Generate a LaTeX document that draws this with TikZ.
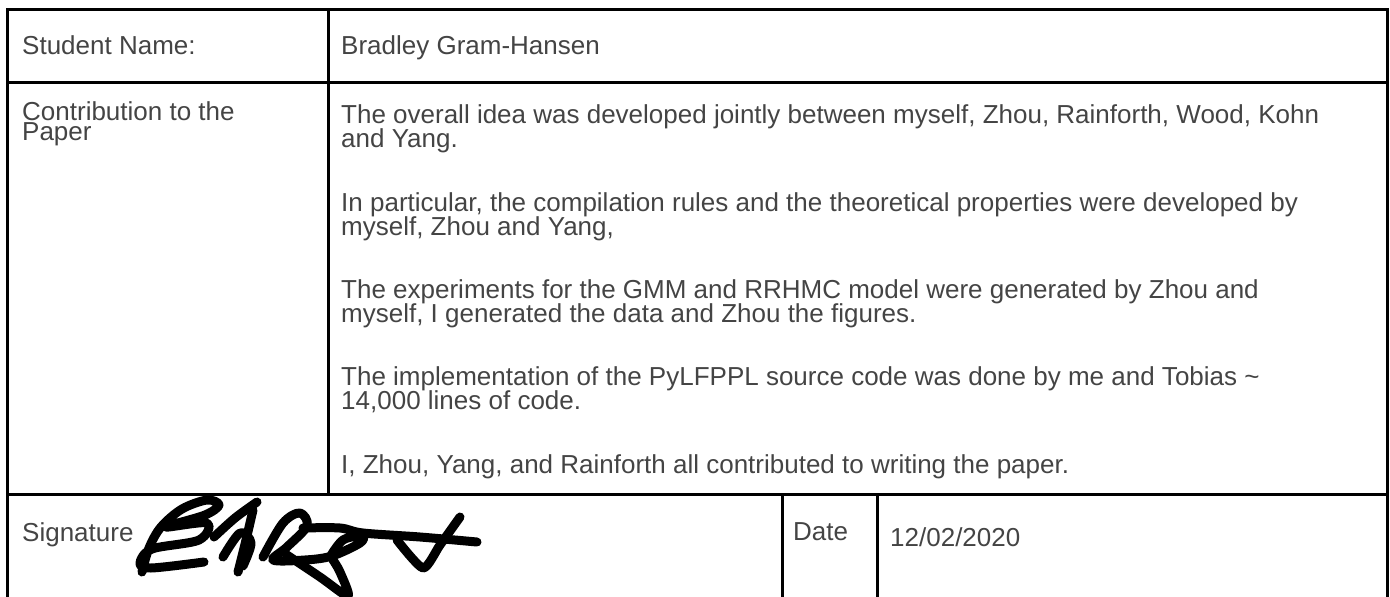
\documentclass[tikz,border=0pt]{standalone}
\usepackage{fontspec}
\setmainfont{Liberation Sans}
\definecolor{txt}{HTML}{444444}
\begin{document}
\begin{tikzpicture}[x=1pt,y=-1pt,
  rule/.style={line width=3pt,black},
  cell/.style={anchor=base west,inner sep=0pt,text=txt,font=\fontsize{26}{24.5}\selectfont,align=left},
  ink/.style={line width=9pt,black,line cap=round,line join=round}]
\useasboundingbox (0,0) rectangle (1390,597);
\begin{scope}
\clip (0,0) rectangle (1390,597);
% table frame
\draw[rule] (7,610) -- (7,9) -- (1387,9) -- (1387,610);
\draw[rule] (7,82) -- (1387,82);
\draw[rule] (7,494) -- (1387,494);
\draw[rule] (328,9) -- (328,494);
\draw[rule] (782,494) -- (782,610);
\draw[rule] (877,494) -- (877,610);
\end{scope}
% first column (multi-line nodes are placed by the baseline of their last line)
\node[cell] (lname) at (22,54) {Student Name:};
\node[cell,font=\fontsize{26}{17}\selectfont] (lcontrib) at (22,140) {Contribution to the\\Paper};
\node[cell] (lsig) at (22,541) {Signature};
% second column
\node[cell] (name) at (341,54) {Bradley Gram-Hansen};
\node[cell] (p1) at (341,147.5) {The overall idea was developed jointly between myself, Zhou, Rainforth, Wood, Kohn\\and Yang.};
\node[cell] (p2) at (341,235.5) {In particular, the compilation rules and the theoretical properties were developed by\\myself, Zhou and Yang,};
\node[cell] (p3) at (341,322.5) {The experiments for the GMM and RRHMC model were generated by Zhou and\\myself, I generated the data and Zhou the figures.};
\node[cell] (p4) at (341,409.5) {The implementation of the PyLFPPL source code was done by me and Tobias \textasciitilde\\14,000 lines of code.};
\node[cell] (p5) at (341,473) {I, Zhou, Yang, and Rainforth all contributed to writing the paper.};
% date cells
\node[cell] (ldate) at (793,540) {Date};
\node[cell] (date) at (890,546) {12/02/2020};
% handwritten signature
\draw[ink] plot[smooth,tension=0.55] coordinates {(142,572) (149,548) (161,527) (182,509) (207,500) (219,505) (205,515) (166,527) (207,523) (199,540) (152,549) (140,563) (151,568) (204,562)};
\draw[ink] plot[smooth,tension=0.55] coordinates {(214,537) (235,518) (257,502)};
\draw[ink] plot[smooth,tension=0.55] coordinates {(253,510) (246,540) (238,572)};
\draw[ink] plot[smooth,tension=0.55] coordinates {(223,557) (240,533) (251,543) (243,566)};
\draw[ink] plot[smooth,tension=0.55] coordinates {(263,557) (283,523) (300,513) (307,526) (287,547) (273,560) (305,560) (332,556) (360,543) (362,536) (343,540) (330,557)};
\draw[ink] plot[smooth,tension=0.5] coordinates {(287,555) (320,577) (348,596) (340,572) (333,560)};
\draw[ink] plot[smooth,tension=0.55] coordinates {(303,528) (340,528) (363,533) (420,537) (477,542)};
\draw[ink] plot[smooth,tension=0.4] coordinates {(460,517) (440,545) (423,568) (397,540)};
\end{tikzpicture}
\end{document}
